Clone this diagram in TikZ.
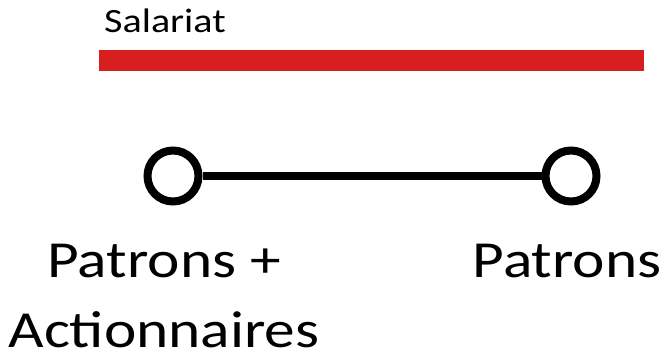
\documentclass[tikz,border=0pt]{standalone}
\usepackage{fontspec}
\setmainfont{Carlito}[FakeStretch=1.18]
\definecolor{barred}{RGB}{216,31,31}
\begin{document}
\begin{tikzpicture}[x=1pt,y=-1pt,
  endpt/.style={circle,draw=black,line width=8pt,fill=white,minimum size=51pt,inner sep=0pt},
  conn/.style={line width=8pt},
  big/.style={font=\fontsize{52}{70}\selectfont,align=center,inner sep=0pt},
  small/.style={font=\fontsize{34}{40}\selectfont,inner sep=0pt,anchor=base west}]
\useasboundingbox (0,0) rectangle (667,362);
\fill[barred] (99,50) rectangle (644,71);
\node[small] (sal) at (104,32) {Salariat};
\node[endpt] (a) at (173,176) {};
\node[endpt] (b) at (571,176) {};
\draw[conn] (a) -- (b);
\node[big,anchor=base] (la) at (164,347) {Patrons +\\Actionnaires};
\node[big,anchor=base] (lb) at (567,277) {Patrons};
\end{tikzpicture}
\end{document}
